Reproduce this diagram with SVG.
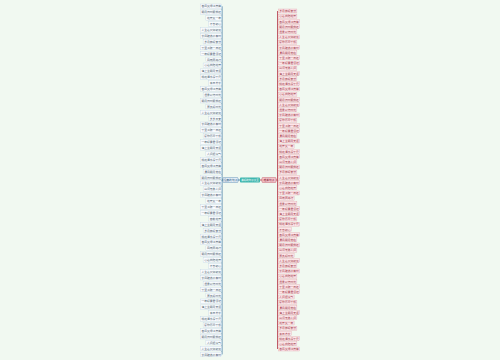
<svg xmlns="http://www.w3.org/2000/svg" width="500" height="360" viewBox="0 0 500 360">
<style>
text{font-family:"Noto Sans CJK SC","Noto Sans",sans-serif;font-size:2.8px}
.l{fill:#f8fbfe;stroke:#b8cce0;stroke-width:.3}
.lt{fill:#4a5a6a;text-anchor:end}
.r{fill:#fde6e9;stroke:#de96a0;stroke-width:.3}
.rt{fill:#9a3040}
.c{fill:none;stroke-width:.8}
</style>
<rect width="500" height="360" fill="#f1f9f1"/>
<g id="connectors">
<path class="c" stroke="#2f6a9c" d="M222 6.3V354.4M223 180H222M238 180H240"/>
<path class="c" stroke="#b23444" d="M277.5 11V349M276 180H277.5M260 180H262"/>
</g>
<g id="center"><rect x="240" y="177.5" width="20" height="5" rx=".8" fill="#3db6ae"/><text x="250" y="180.9" font-size="2.5" fill="#fff" text-anchor="middle" style="font-size:2.5px">美好的句子大全</text></g>
<g id="left-main"><rect x="223" y="177.6" width="15" height="4.8" rx=".6" fill="#eaf3fb" stroke="#2f6a9c" stroke-width=".4"/><text x="230.5" y="180.9" fill="#2f5a80" text-anchor="middle">经典的句子</text></g>
<g id="right-main"><rect x="262" y="177.6" width="14" height="4.8" rx=".6" fill="#f6c9cf" stroke="#b23444" stroke-width=".4"/><text x="269" y="180.9" fill="#8a2030" text-anchor="middle">唯美句子</text></g>
<g id="left-leaves">
<g id="l0"><rect class="l" x="200.3" y="4" width="21.2" height="4.6"/><text class="lt" x="221" y="7.4">春风又绿江南岸</text></g>
<g id="l1"><rect class="l" x="200.3" y="9.9" width="21.2" height="4.6"/><text class="lt" x="221" y="13.3">明月何时照我还</text></g>
<g id="l2"><rect class="l" x="205.9" y="15.8" width="15.6" height="4.6"/><text class="lt" x="221" y="19.2">花开又一年</text></g>
<g id="l3"><rect class="l" x="208.7" y="21.7" width="12.8" height="4.6"/><text class="lt" x="221" y="25.1">不忘初心</text></g>
<g id="l4"><rect class="l" x="200.3" y="27.6" width="21.2" height="4.6"/><text class="lt" x="221" y="31">人生若只如初见</text></g>
<g id="l5"><rect class="l" x="200.3" y="33.5" width="21.2" height="4.6"/><text class="lt" x="221" y="36.9">长风破浪会有时</text></g>
<g id="l6"><rect class="l" x="203.1" y="39.4" width="18.4" height="4.6"/><text class="lt" x="221" y="42.8">岁月静好安然</text></g>
<g id="l7"><rect class="l" x="200.3" y="45.3" width="21.2" height="4.6"/><text class="lt" x="221" y="48.7">千里江陵一日还</text></g>
<g id="l8"><rect class="l" x="200.3" y="51.2" width="21.2" height="4.6"/><text class="lt" x="221" y="54.6">一年好景君须记</text></g>
<g id="l9"><rect class="l" x="205.9" y="57.1" width="15.6" height="4.6"/><text class="lt" x="221" y="60.5">风雨同舟行</text></g>
<g id="l10"><rect class="l" x="203.1" y="63" width="18.4" height="4.6"/><text class="lt" x="221" y="66.4">心若向阳花开</text></g>
<g id="l11"><rect class="l" x="200.3" y="68.9" width="21.2" height="4.6"/><text class="lt" x="221" y="72.3">海上生明月天涯</text></g>
<g id="l12"><rect class="l" x="200.3" y="74.8" width="21.2" height="4.6"/><text class="lt" x="221" y="78.2">桃花潭水深千尺</text></g>
<g id="l13"><rect class="l" x="208.7" y="80.7" width="12.8" height="4.6"/><text class="lt" x="221" y="84.1">来日方长</text></g>
<g id="l14"><rect class="l" x="200.3" y="86.6" width="21.2" height="4.6"/><text class="lt" x="221" y="90">春风又绿江南岸</text></g>
<g id="l15"><rect class="l" x="203.1" y="92.5" width="18.4" height="4.6"/><text class="lt" x="221" y="95.9">温柔以待时光</text></g>
<g id="l16"><rect class="l" x="200.3" y="98.4" width="21.2" height="4.6"/><text class="lt" x="221" y="101.8">明月何时照我还</text></g>
<g id="l17"><rect class="l" x="205.9" y="104.3" width="15.6" height="4.6"/><text class="lt" x="221" y="107.7">莫负好时光</text></g>
<g id="l18"><rect class="l" x="200.3" y="110.2" width="21.2" height="4.6"/><text class="lt" x="221" y="113.6">人生若只如初见</text></g>
<g id="l19"><rect class="l" x="208.7" y="116.1" width="12.8" height="4.6"/><text class="lt" x="221" y="119.5">岁岁平安</text></g>
<g id="l20"><rect class="l" x="200.3" y="122" width="21.2" height="4.6"/><text class="lt" x="221" y="125.4">长风破浪会有时</text></g>
<g id="l21"><rect class="l" x="200.3" y="127.9" width="21.2" height="4.6"/><text class="lt" x="221" y="131.3">千里江陵一日还</text></g>
<g id="l22"><rect class="l" x="203.1" y="133.8" width="18.4" height="4.6"/><text class="lt" x="221" y="137.2">愿你历尽千帆</text></g>
<g id="l23"><rect class="l" x="200.3" y="139.7" width="21.2" height="4.6"/><text class="lt" x="221" y="143.1">一年好景君须记</text></g>
<g id="l24"><rect class="l" x="200.3" y="145.6" width="21.2" height="4.6"/><text class="lt" x="221" y="149">海上生明月天涯</text></g>
<g id="l25"><rect class="l" x="205.9" y="151.5" width="15.6" height="4.6"/><text class="lt" x="221" y="154.9">人间烟火气</text></g>
<g id="l26"><rect class="l" x="200.3" y="157.4" width="21.2" height="4.6"/><text class="lt" x="221" y="160.8">桃花潭水深千尺</text></g>
<g id="l27"><rect class="l" x="200.3" y="163.3" width="21.2" height="4.6"/><text class="lt" x="221" y="166.7">春风又绿江南岸</text></g>
<g id="l28"><rect class="l" x="203.1" y="169.2" width="18.4" height="4.6"/><text class="lt" x="221" y="172.6">清风明月常在</text></g>
<g id="l29"><rect class="l" x="200.3" y="175.1" width="21.2" height="4.6"/><text class="lt" x="221" y="178.5">明月何时照我还</text></g>
<g id="l30"><rect class="l" x="200.3" y="181" width="21.2" height="4.6"/><text class="lt" x="221" y="184.4">人生若只如初见</text></g>
<g id="l31"><rect class="l" x="203.1" y="186.9" width="18.4" height="4.6"/><text class="lt" x="221" y="190.3">山河无恙人间</text></g>
<g id="l32"><rect class="l" x="200.3" y="192.8" width="21.2" height="4.6"/><text class="lt" x="221" y="196.2">长风破浪会有时</text></g>
<g id="l33"><rect class="l" x="205.9" y="198.7" width="15.6" height="4.6"/><text class="lt" x="221" y="202.1">花开又一年</text></g>
<g id="l34"><rect class="l" x="200.3" y="204.6" width="21.2" height="4.6"/><text class="lt" x="221" y="208">千里江陵一日还</text></g>
<g id="l35"><rect class="l" x="200.3" y="210.5" width="21.2" height="4.6"/><text class="lt" x="221" y="213.9">一年好景君须记</text></g>
<g id="l36"><rect class="l" x="208.7" y="216.4" width="12.8" height="4.6"/><text class="lt" x="221" y="219.8">春暖花开</text></g>
<g id="l37"><rect class="l" x="200.3" y="222.3" width="21.2" height="4.6"/><text class="lt" x="221" y="225.7">海上生明月天涯</text></g>
<g id="l38"><rect class="l" x="203.1" y="228.2" width="18.4" height="4.6"/><text class="lt" x="221" y="231.6">岁月静好安然</text></g>
<g id="l39"><rect class="l" x="200.3" y="234.1" width="21.2" height="4.6"/><text class="lt" x="221" y="237.5">桃花潭水深千尺</text></g>
<g id="l40"><rect class="l" x="200.3" y="240" width="21.2" height="4.6"/><text class="lt" x="221" y="243.4">春风又绿江南岸</text></g>
<g id="l41"><rect class="l" x="205.9" y="245.9" width="15.6" height="4.6"/><text class="lt" x="221" y="249.3">风雨同舟行</text></g>
<g id="l42"><rect class="l" x="200.3" y="251.8" width="21.2" height="4.6"/><text class="lt" x="221" y="255.2">明月何时照我还</text></g>
<g id="l43"><rect class="l" x="203.1" y="257.7" width="18.4" height="4.6"/><text class="lt" x="221" y="261.1">心若向阳花开</text></g>
<g id="l44"><rect class="l" x="208.7" y="263.6" width="12.8" height="4.6"/><text class="lt" x="221" y="267">不忘初心</text></g>
<g id="l45"><rect class="l" x="200.3" y="269.5" width="21.2" height="4.6"/><text class="lt" x="221" y="272.9">人生若只如初见</text></g>
<g id="l46"><rect class="l" x="200.3" y="275.4" width="21.2" height="4.6"/><text class="lt" x="221" y="278.8">长风破浪会有时</text></g>
<g id="l47"><rect class="l" x="203.1" y="281.3" width="18.4" height="4.6"/><text class="lt" x="221" y="284.7">温柔以待时光</text></g>
<g id="l48"><rect class="l" x="200.3" y="287.2" width="21.2" height="4.6"/><text class="lt" x="221" y="290.6">千里江陵一日还</text></g>
<g id="l49"><rect class="l" x="205.9" y="293.1" width="15.6" height="4.6"/><text class="lt" x="221" y="296.5">莫负好时光</text></g>
<g id="l50"><rect class="l" x="200.3" y="299" width="21.2" height="4.6"/><text class="lt" x="221" y="302.4">一年好景君须记</text></g>
<g id="l51"><rect class="l" x="200.3" y="304.9" width="21.2" height="4.6"/><text class="lt" x="221" y="308.3">海上生明月天涯</text></g>
<g id="l52"><rect class="l" x="208.7" y="310.8" width="12.8" height="4.6"/><text class="lt" x="221" y="314.2">来日方长</text></g>
<g id="l53"><rect class="l" x="200.3" y="316.7" width="21.2" height="4.6"/><text class="lt" x="221" y="320.1">桃花潭水深千尺</text></g>
<g id="l54"><rect class="l" x="203.1" y="322.6" width="18.4" height="4.6"/><text class="lt" x="221" y="326">愿你历尽千帆</text></g>
<g id="l55"><rect class="l" x="200.3" y="328.5" width="21.2" height="4.6"/><text class="lt" x="221" y="331.9">春风又绿江南岸</text></g>
<g id="l56"><rect class="l" x="200.3" y="334.4" width="21.2" height="4.6"/><text class="lt" x="221" y="337.8">明月何时照我还</text></g>
<g id="l57"><rect class="l" x="205.9" y="340.3" width="15.6" height="4.6"/><text class="lt" x="221" y="343.7">人间烟火气</text></g>
<g id="l58"><rect class="l" x="200.3" y="346.2" width="21.2" height="4.6"/><text class="lt" x="221" y="349.6">人生若只如初见</text></g>
<g id="l59"><rect class="l" x="200.3" y="352.1" width="21.2" height="4.6"/><text class="lt" x="221" y="355.5">长风破浪会有时</text></g>
</g>
<g id="right-leaves">
<g id="r0"><rect class="r" x="278.5" y="9" width="18.4" height="4"/><text class="rt" x="279.3" y="12.1">岁月静好安然</text></g>
<g id="r1"><rect class="r" x="278.5" y="14.2" width="18.4" height="4"/><text class="rt" x="279.3" y="17.3">心若向阳花开</text></g>
<g id="r2"><rect class="r" x="278.5" y="19.4" width="21.2" height="4"/><text class="rt" x="279.3" y="22.5">春风又绿江南岸</text></g>
<g id="r3"><rect class="r" x="278.5" y="24.6" width="21.2" height="4"/><text class="rt" x="279.3" y="27.7">明月何时照我还</text></g>
<g id="r4"><rect class="r" x="278.5" y="29.8" width="18.4" height="4"/><text class="rt" x="279.3" y="32.9">温柔以待时光</text></g>
<g id="r5"><rect class="r" x="278.5" y="35" width="21.2" height="4"/><text class="rt" x="279.3" y="38.1">人生若只如初见</text></g>
<g id="r6"><rect class="r" x="278.5" y="40.2" width="18.4" height="4"/><text class="rt" x="279.3" y="43.3">愿你历尽千帆</text></g>
<g id="r7"><rect class="r" x="278.5" y="45.4" width="21.2" height="4"/><text class="rt" x="279.3" y="48.5">长风破浪会有时</text></g>
<g id="r8"><rect class="r" x="278.5" y="50.6" width="18.4" height="4"/><text class="rt" x="279.3" y="53.7">清风明月常在</text></g>
<g id="r9"><rect class="r" x="278.5" y="55.8" width="21.2" height="4"/><text class="rt" x="279.3" y="58.9">千里江陵一日还</text></g>
<g id="r10"><rect class="r" x="278.5" y="61" width="21.2" height="4"/><text class="rt" x="279.3" y="64.1">一年好景君须记</text></g>
<g id="r11"><rect class="r" x="278.5" y="66.2" width="18.4" height="4"/><text class="rt" x="279.3" y="69.3">山河无恙人间</text></g>
<g id="r12"><rect class="r" x="278.5" y="71.4" width="21.2" height="4"/><text class="rt" x="279.3" y="74.5">海上生明月天涯</text></g>
<g id="r13"><rect class="r" x="278.5" y="76.6" width="18.4" height="4"/><text class="rt" x="279.3" y="79.7">岁月静好安然</text></g>
<g id="r14"><rect class="r" x="278.5" y="81.8" width="21.2" height="4"/><text class="rt" x="279.3" y="84.9">桃花潭水深千尺</text></g>
<g id="r15"><rect class="r" x="278.5" y="87" width="21.2" height="4"/><text class="rt" x="279.3" y="90.1">春风又绿江南岸</text></g>
<g id="r16"><rect class="r" x="278.5" y="92.2" width="18.4" height="4"/><text class="rt" x="279.3" y="95.3">心若向阳花开</text></g>
<g id="r17"><rect class="r" x="278.5" y="97.4" width="21.2" height="4"/><text class="rt" x="279.3" y="100.5">明月何时照我还</text></g>
<g id="r18"><rect class="r" x="278.5" y="102.6" width="21.2" height="4"/><text class="rt" x="279.3" y="105.7">人生若只如初见</text></g>
<g id="r19"><rect class="r" x="278.5" y="107.8" width="18.4" height="4"/><text class="rt" x="279.3" y="110.9">温柔以待时光</text></g>
<g id="r20"><rect class="r" x="278.5" y="113" width="21.2" height="4"/><text class="rt" x="279.3" y="116.1">长风破浪会有时</text></g>
<g id="r21"><rect class="r" x="278.5" y="118.2" width="18.4" height="4"/><text class="rt" x="279.3" y="121.3">愿你历尽千帆</text></g>
<g id="r22"><rect class="r" x="278.5" y="123.4" width="21.2" height="4"/><text class="rt" x="279.3" y="126.5">千里江陵一日还</text></g>
<g id="r23"><rect class="r" x="278.5" y="128.6" width="21.2" height="4"/><text class="rt" x="279.3" y="131.7">一年好景君须记</text></g>
<g id="r24"><rect class="r" x="278.5" y="133.8" width="18.4" height="4"/><text class="rt" x="279.3" y="136.9">清风明月常在</text></g>
<g id="r25"><rect class="r" x="278.5" y="139" width="21.2" height="4"/><text class="rt" x="279.3" y="142.1">海上生明月天涯</text></g>
<g id="r26"><rect class="r" x="278.5" y="144.2" width="15.6" height="4"/><text class="rt" x="279.3" y="147.3">花开又一年</text></g>
<g id="r27"><rect class="r" x="278.5" y="149.4" width="21.2" height="4"/><text class="rt" x="279.3" y="152.5">桃花潭水深千尺</text></g>
<g id="r28"><rect class="r" x="278.5" y="154.6" width="21.2" height="4"/><text class="rt" x="279.3" y="157.7">春风又绿江南岸</text></g>
<g id="r29"><rect class="r" x="278.5" y="159.8" width="18.4" height="4"/><text class="rt" x="279.3" y="162.9">山河无恙人间</text></g>
<g id="r30"><rect class="r" x="278.5" y="165" width="21.2" height="4"/><text class="rt" x="279.3" y="168.1">明月何时照我还</text></g>
<g id="r31"><rect class="r" x="278.5" y="170.2" width="18.4" height="4"/><text class="rt" x="279.3" y="173.3">岁月静好安然</text></g>
<g id="r32"><rect class="r" x="278.5" y="175.4" width="21.2" height="4"/><text class="rt" x="279.3" y="178.5">人生若只如初见</text></g>
<g id="r33"><rect class="r" x="278.5" y="180.6" width="21.2" height="4"/><text class="rt" x="279.3" y="183.7">长风破浪会有时</text></g>
<g id="r34"><rect class="r" x="278.5" y="185.8" width="18.4" height="4"/><text class="rt" x="279.3" y="188.9">心若向阳花开</text></g>
<g id="r35"><rect class="r" x="278.5" y="191" width="21.2" height="4"/><text class="rt" x="279.3" y="194.1">千里江陵一日还</text></g>
<g id="r36"><rect class="r" x="278.5" y="196.2" width="15.6" height="4"/><text class="rt" x="279.3" y="199.3">风雨同舟行</text></g>
<g id="r37"><rect class="r" x="278.5" y="201.4" width="18.4" height="4"/><text class="rt" x="279.3" y="204.5">温柔以待时光</text></g>
<g id="r38"><rect class="r" x="278.5" y="206.6" width="21.2" height="4"/><text class="rt" x="279.3" y="209.7">一年好景君须记</text></g>
<g id="r39"><rect class="r" x="278.5" y="211.8" width="21.2" height="4"/><text class="rt" x="279.3" y="214.9">海上生明月天涯</text></g>
<g id="r40"><rect class="r" x="278.5" y="217" width="18.4" height="4"/><text class="rt" x="279.3" y="220.1">愿你历尽千帆</text></g>
<g id="r41"><rect class="r" x="278.5" y="222.2" width="21.2" height="4"/><text class="rt" x="279.3" y="225.3">桃花潭水深千尺</text></g>
<g id="r42"><rect class="r" x="278.5" y="227.4" width="12.8" height="4"/><text class="rt" x="279.3" y="230.5">不忘初心</text></g>
<g id="r43"><rect class="r" x="278.5" y="232.6" width="21.2" height="4"/><text class="rt" x="279.3" y="235.7">春风又绿江南岸</text></g>
<g id="r44"><rect class="r" x="278.5" y="237.8" width="18.4" height="4"/><text class="rt" x="279.3" y="240.9">清风明月常在</text></g>
<g id="r45"><rect class="r" x="278.5" y="243" width="21.2" height="4"/><text class="rt" x="279.3" y="246.1">明月何时照我还</text></g>
<g id="r46"><rect class="r" x="278.5" y="248.2" width="18.4" height="4"/><text class="rt" x="279.3" y="251.3">山河无恙人间</text></g>
<g id="r47"><rect class="r" x="278.5" y="253.4" width="15.6" height="4"/><text class="rt" x="279.3" y="256.5">莫负好时光</text></g>
<g id="r48"><rect class="r" x="278.5" y="258.6" width="21.2" height="4"/><text class="rt" x="279.3" y="261.7">人生若只如初见</text></g>
<g id="r49"><rect class="r" x="278.5" y="263.8" width="18.4" height="4"/><text class="rt" x="279.3" y="266.9">岁月静好安然</text></g>
<g id="r50"><rect class="r" x="278.5" y="269" width="21.2" height="4"/><text class="rt" x="279.3" y="272.1">长风破浪会有时</text></g>
<g id="r51"><rect class="r" x="278.5" y="274.2" width="18.4" height="4"/><text class="rt" x="279.3" y="277.3">心若向阳花开</text></g>
<g id="r52"><rect class="r" x="278.5" y="279.4" width="18.4" height="4"/><text class="rt" x="279.3" y="282.5">温柔以待时光</text></g>
<g id="r53"><rect class="r" x="278.5" y="284.6" width="21.2" height="4"/><text class="rt" x="279.3" y="287.7">千里江陵一日还</text></g>
<g id="r54"><rect class="r" x="278.5" y="289.8" width="21.2" height="4"/><text class="rt" x="279.3" y="292.9">一年好景君须记</text></g>
<g id="r55"><rect class="r" x="278.5" y="295" width="15.6" height="4"/><text class="rt" x="279.3" y="298.1">人间烟火气</text></g>
<g id="r56"><rect class="r" x="278.5" y="300.2" width="18.4" height="4"/><text class="rt" x="279.3" y="303.3">愿你历尽千帆</text></g>
<g id="r57"><rect class="r" x="278.5" y="305.4" width="18.4" height="4"/><text class="rt" x="279.3" y="308.5">清风明月常在</text></g>
<g id="r58"><rect class="r" x="278.5" y="310.6" width="21.2" height="4"/><text class="rt" x="279.3" y="313.7">海上生明月天涯</text></g>
<g id="r59"><rect class="r" x="278.5" y="315.8" width="18.4" height="4"/><text class="rt" x="279.3" y="318.9">山河无恙人间</text></g>
<g id="r60"><rect class="r" x="278.5" y="321" width="15.6" height="4"/><text class="rt" x="279.3" y="324.1">花开又一年</text></g>
<g id="r61"><rect class="r" x="278.5" y="326.2" width="18.4" height="4"/><text class="rt" x="279.3" y="329.3">岁月静好安然</text></g>
<g id="r62"><rect class="r" x="278.5" y="331.4" width="12.8" height="4"/><text class="rt" x="279.3" y="334.5">来日方长</text></g>
<g id="r63"><rect class="r" x="278.5" y="336.6" width="21.2" height="4"/><text class="rt" x="279.3" y="339.7">桃花潭水深千尺</text></g>
<g id="r64"><rect class="r" x="278.5" y="341.8" width="18.4" height="4"/><text class="rt" x="279.3" y="344.9">心若向阳花开</text></g>
<g id="r65"><rect class="r" x="278.5" y="347" width="21.2" height="4"/><text class="rt" x="279.3" y="350.1">春风又绿江南岸</text></g>
</g>
</svg>
